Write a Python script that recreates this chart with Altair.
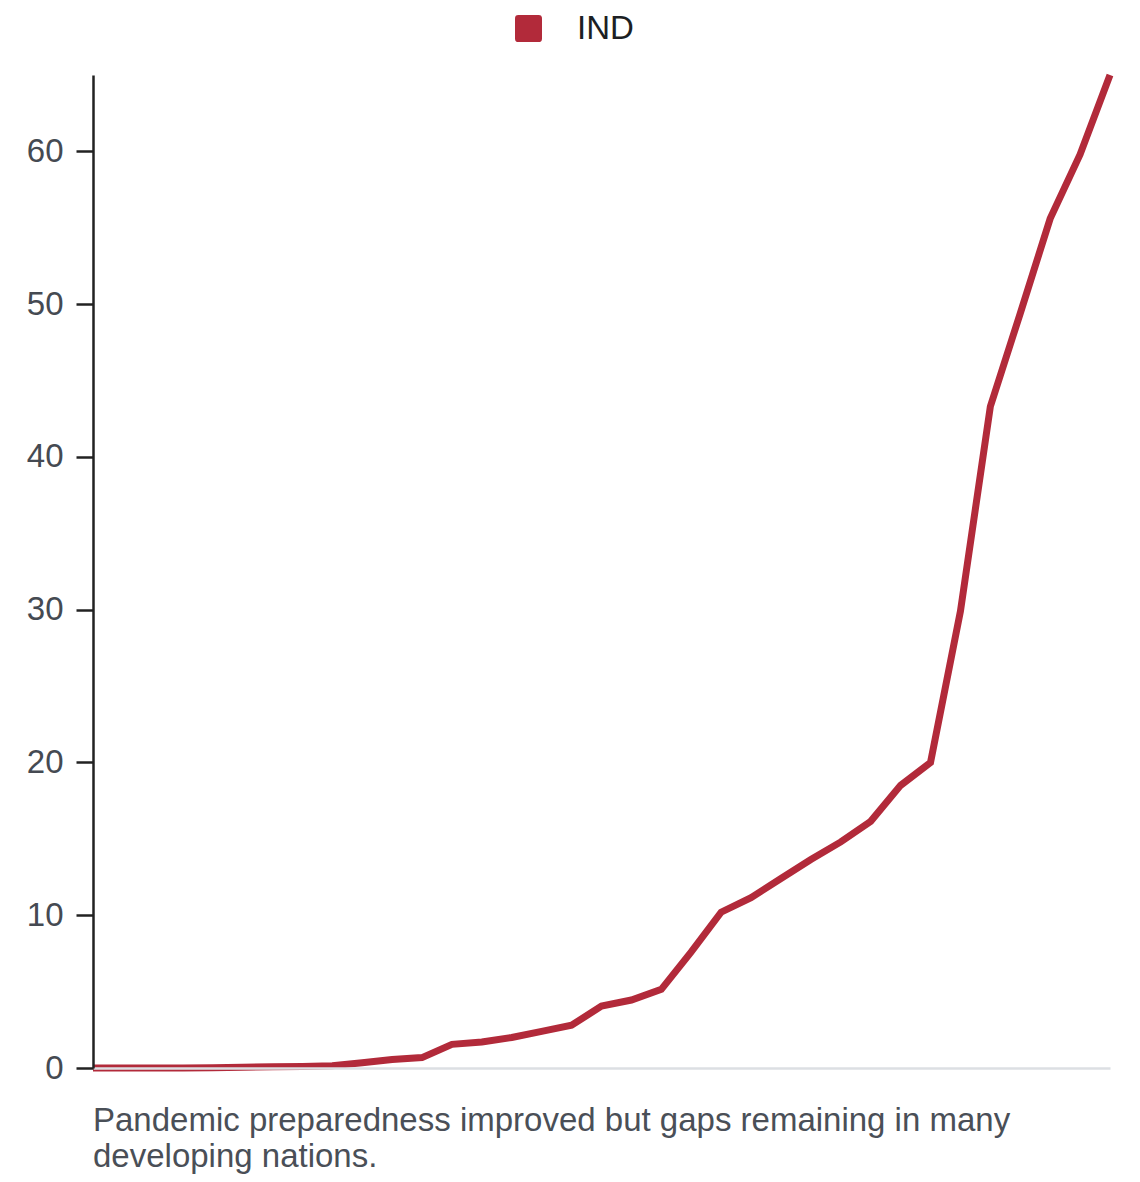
import altair as alt
import pandas as pd

series_name = "IND"
step = list(range(35))
values = [0.0, 0.0, 0.0, 0.0, 0.02, 0.05, 0.08, 0.1, 0.15, 0.35, 0.55, 0.68,
          1.55, 1.7, 2.0, 2.4, 2.8, 4.05, 4.45, 5.15, 7.6, 10.2, 11.15, 12.4,
          13.65, 14.8, 16.15, 18.5, 20.0, 29.9, 43.3, 49.4, 55.6, 59.8, 65.0]
y_ticks = [0, 10, 20, 30, 40, 50, 60]
caption = ["Pandemic preparedness improved but gaps remaining in many",
           "developing nations."]

df = pd.DataFrame({"step": step, "value": values, "series": series_name})

FONT = "Liberation Sans"
RED = "#b22a3a"
rounded_square = ("M-0.75,-1 L0.75,-1 Q1,-1 1,-0.75 L1,0.75 Q1,1 0.75,1 "
                  "L-0.75,1 Q-1,1 -1,0.75 L-1,-0.75 Q-1,-1 -0.75,-1 Z")

chart = alt.Chart(df).mark_line(strokeWidth=7, strokeJoin="miter").encode(
    x=alt.X("step:Q", scale=alt.Scale(domain=[0, 34], nice=False),
            axis=alt.Axis(title=None, labels=False, ticks=False, grid=False,
                          domainColor="#dcdfe3", domainWidth=2.5, zindex=1)),
    y=alt.Y("value:Q", scale=alt.Scale(domain=[0, 65], nice=False, zero=True),
            axis=alt.Axis(title=None, values=y_ticks, grid=False,
                          domainColor="#222222", domainWidth=2.5,
                          tickColor="#222222", tickWidth=2.5, tickSize=17,
                          labelPadding=13, labelFont=FONT, labelFontSize=33,
                          labelColor="#454a52", zindex=1)),
    color=alt.Color("series:N", scale=alt.Scale(range=[RED]),
                    legend=alt.Legend(title=None, orient="none",
                                      legendX=419, legendY=-63,
                                      symbolType=rounded_square,
                                      symbolSize=729, symbolStrokeWidth=0,
                                      symbolFillColor=RED,
                                      symbolStrokeColor=RED,
                                      symbolOpacity=1,
                                      labelFont=FONT, labelFontSize=33,
                                      labelColor="#1c1f24", labelOffset=32)),
).properties(
    width=1017,
    height=993,
    title=alt.TitleParams(text=caption, orient="bottom", anchor="start",
                          frame="group", font=FONT, fontSize=33,
                          fontWeight="normal", color="#4a4f57",
                          lineHeight=36, offset=20),
    autosize=alt.AutoSizeParams(type="none"),
    padding={"left": 85, "top": 67, "right": 22, "bottom": 110},
).configure_view(stroke=None)

chart.save("out.html", embed_options={"renderer": "svg", "actions": False})
